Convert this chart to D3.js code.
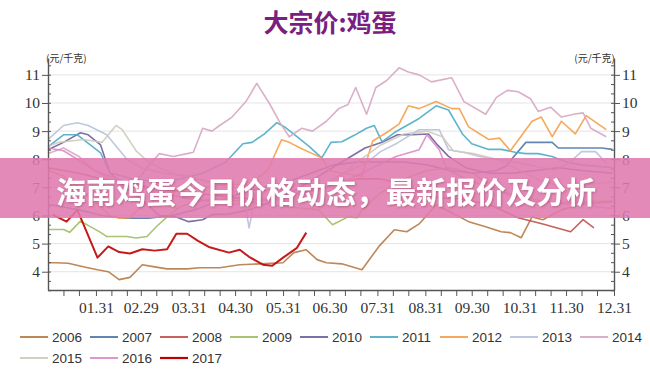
<!DOCTYPE html>
<html>
<head>
<meta charset="utf-8">
<script src="https://cdn.jsdelivr.net/npm/d3@7"></script>
<style>
  body { margin: 0; background: #fff; }
  svg { display: block; }
  .axis path, .axis line { stroke: #555; }
  .legend text { font-family: "Liberation Sans", Arial, sans-serif; font-size: 13.5px; fill: #333; }
</style>
</head>
<body>
<svg id="chart"></svg>
<script>
// texts
const title = '大宗价:鸡蛋';
const bannerText = '海南鸡蛋今日价格动态，最新报价及分析';
const unitLabel = '(元/千克)';

// categories and ticks
const years = ['2006', '2007', '2008', '2009', '2010', '2011', '2012', '2013', '2014', '2015', '2016', '2017'];
const monthEnds = [31, 60, 91, 121, 152, 182, 213, 244, 274, 305, 335, 366];
const monthLabels = ['01.31', '02.29', '03.31', '04.30', '05.31', '06.30', '07.31', '08.31', '09.30', '10.31', '11.30', '12.31'];
const yTicks = [4, 5, 6, 7, 8, 9, 10, 11];

// series: [day of year, price]
const p2006 = [[0,4.32],[5,4.32],[13,4.3],[25,4.15],[32,4.07],[39,4.0],[46,3.72],[53,3.8],[61,4.25],[68,4.18],[77,4.1],[90,4.1],[98,4.14],[111,4.14],[124,4.25],[137,4.28],[152,4.32],[159,4.68],[167,4.78],[174,4.43],[180,4.32],[190,4.28],[203,4.07],[214,4.9],[224,5.49],[232,5.42],[240,5.7],[251,6.38],[261,6.1],[272,5.78],[283,5.6],[293,5.42],[299,5.39],[306,5.21],[313,5.95],[320,5.85],[332,6.2],[345,6.4],[358,6.45],[365,6.5]];
const p2007 = [[0,6.4],[10,6.3],[20,6.2],[35,6.0],[50,5.9],[65,5.9],[80,6.0],[95,6.2],[110,6.5],[125,6.8],[140,7.0],[155,7.2],[170,7.5],[185,7.8],[200,7.9],[215,7.9],[230,7.9],[245,7.8],[260,7.6],[275,7.5],[290,7.6],[296,7.75],[309,8.6],[326,8.6],[330,8.4],[345,8.4],[358,8.4],[365,8.35]];
const p2008 = [[0,7.7],[10,7.6],[20,7.5],[35,7.3],[50,7.2],[65,7.0],[80,6.9],[95,6.8],[110,6.7],[125,6.6],[140,6.6],[155,6.7],[170,6.9],[185,7.1],[200,7.3],[215,7.3],[230,7.1],[246,6.66],[265,6.6],[285,6.4],[304,5.92],[320,5.7],[338,5.42],[346,5.85],[353,5.56]];
const p2009 = [[0,5.5],[10,5.5],[14,5.4],[21,5.8],[34,5.4],[38,5.25],[51,5.25],[57,5.2],[64,5.25],[70,5.6],[77,5.95],[85,6.3],[95,6.5],[110,6.6],[125,6.5],[140,6.4],[155,6.3],[175,6.2],[184,5.67],[194,5.95],[200,5.92],[203,6.2],[215,6.8],[230,7.3],[245,7.6],[260,7.7],[275,7.5],[290,6.9],[305,6.7],[320,6.5],[335,6.4],[350,6.5],[365,6.5]];
const p2010 = [[0,8.34],[10,8.6],[21,8.94],[26,8.87],[34,8.51],[40,7.52],[50,7.0],[60,6.6],[72,6.0],[83,5.95],[91,5.78],[100,5.85],[106,6.03],[117,6.05],[130,6.2],[145,6.5],[160,6.9],[175,7.4],[190,7.9],[205,8.4],[216,8.6],[226,8.87],[235,8.87],[246,8.9],[252,8.5],[259,8.1],[270,7.7],[285,7.5],[300,7.5],[315,7.6],[330,7.7],[345,7.6],[365,7.5]];
const p2011 = [[0,8.44],[10,8.87],[19,8.87],[34,8.23],[40,7.52],[55,7.3],[70,7.2],[85,7.3],[100,7.5],[115,7.9],[126,8.55],[132,8.6],[140,8.9],[148,9.3],[153,9.15],[161,8.8],[169,8.45],[177,8.05],[183,8.6],[190,8.62],[198,8.85],[206,9.1],[211,9.2],[216,8.62],[224,8.95],[232,9.2],[240,9.45],[251,9.9],[259,9.75],[268,8.9],[274,8.55],[285,8.35],[293,8.35],[302,8.25],[309,8.2],[317,8.2],[326,8.1],[335,7.9],[345,7.8],[355,7.75],[365,7.7]];
const p2012 = [[0,7.6],[10,7.4],[20,7.0],[30,6.5],[40,6.0],[46,5.9],[53,5.92],[60,6.3],[70,6.6],[85,6.9],[100,7.0],[115,7.1],[130,7.1],[142,7.6],[151,8.69],[156,8.6],[163,8.4],[171,8.2],[177,8.05],[182,7.6],[190,7.5],[197,7.45],[203,7.4],[210,8.65],[219,8.95],[227,9.25],[233,9.9],[240,9.8],[251,10.05],[261,9.8],[266,9.8],[272,9.15],[285,8.7],[292,8.75],[299,8.3],[313,9.35],[319,9.5],[326,8.8],[332,9.35],[341,8.9],[348,9.55],[361,9.05]];
const p2013 = [[0,8.7],[10,9.2],[19,9.3],[26,9.2],[38,8.87],[51,8.0],[60,7.7],[75,7.5],[90,7.4],[105,7.2],[120,7.0],[126,6.9],[130,5.56],[135,6.9],[145,6.9],[160,6.8],[175,7.0],[191,7.5],[206,7.87],[215,8.27],[226,8.58],[240,9.05],[253,9.05],[259,8.34],[270,8.23],[279,8.1],[290,8.0],[302,7.9],[317,7.73],[328,7.62],[337,7.87],[345,8.27],[354,8.27],[361,7.87]];
const p2014 = [[0,8.2],[10,8.4],[20,8.1],[30,7.6],[40,7.3],[50,7.2],[60,7.4],[64,7.7],[72,8.2],[81,8.1],[90,8.2],[94,8.25],[100,9.1],[106,9.0],[111,9.2],[119,9.5],[128,10.05],[135,10.7],[143,10.0],[150,9.3],[156,8.8],[164,9.1],[171,9.0],[180,9.35],[188,9.8],[194,9.95],[199,10.55],[206,9.6],[212,10.55],[219,10.8],[227,11.25],[233,11.1],[240,11.0],[248,10.75],[261,10.9],[269,10.05],[283,9.6],[290,10.2],[297,10.45],[304,10.4],[312,10.15],[317,9.7],[325,9.85],[332,9.5],[340,9.6],[346,9.65],[351,9.1],[361,8.8]];
const p2015 = [[0,8.45],[7,8.6],[23,8.7],[35,8.6],[44,9.2],[48,9.05],[57,8.3],[65,7.9],[80,7.5],[95,7.3],[110,7.1],[125,6.8],[140,6.6],[155,6.5],[170,6.7],[185,7.2],[200,7.9],[215,8.5],[230,8.9],[245,9.0],[255,8.8],[262,8.3],[275,8.2],[290,8.0],[305,7.6],[320,7.2],[335,7.0],[350,7.1],[365,7.2]];
const p2016 = [[0,8.4],[10,8.3],[19,8.0],[30,7.6],[45,7.3],[60,7.0],[75,6.8],[90,6.6],[105,6.5],[120,6.4],[135,6.5],[150,6.6],[165,6.8],[180,7.0],[195,7.3],[210,7.7],[225,8.1],[240,8.34],[245,8.87],[253,8.34],[258,7.65],[270,7.3],[285,7.0],[300,6.7],[315,6.5],[330,6.45],[345,6.5],[355,6.3],[365,6.25]];
const p2017 = [[3,6.03],[12,5.78],[19,6.2],[32,4.5],[39,4.9],[46,4.7],[53,4.65],[61,4.8],[69,4.75],[77,4.8],[83,5.35],[90,5.35],[97,5.1],[104,4.88],[117,4.68],[124,4.78],[130,4.53],[139,4.25],[145,4.21],[152,4.5],[161,4.85],[167,5.39]];

const seriesValues = [p2006, p2007, p2008, p2009, p2010, p2011, p2012, p2013, p2014, p2015, p2016, p2017];
const colors = ['#b77a45', '#4f79a8', '#c0504d', '#a0bd60', '#6e5f9e', '#4bacc6', '#f5a04a', '#b6c2dc', '#d6a6c2', '#cfcbbb', '#dc8ac8', '#c00000'];

class EggChart {
  constructor(_config) {
    this.config = {
      parentElement: _config.parentElement,
      containerWidth: _config.containerWidth || 650,
      containerHeight: _config.containerHeight || 377,
      plot: _config.plot || {left: 48, right: 614, top: 58, bottom: 290}
    };
    this.initVis();
  }

  initVis() {
    let vis = this;
    const p = vis.config.plot;

    vis.svg = d3.select(vis.config.parentElement)
        .attr('width', vis.config.containerWidth)
        .attr('height', vis.config.containerHeight);

    vis.xScale = d3.scaleLinear().domain([0, 366]).range([p.left, p.right]);
    vis.yScale = d3.scaleLinear().domain([3.35, 11.6]).range([p.bottom, p.top]);

    // title
    vis.svg.append('text')
        .attr('x', 330).attr('y', 32)
        .attr('text-anchor', 'middle')
        .style('font-family', '"Noto Sans CJK SC", sans-serif')
        .style('font-weight', 'bold')
        .style('font-size', '25px')
        .style('fill', '#7a1f80')
        .text(title);

    // units
    vis.svg.append('text')
        .attr('x', p.left - 2).attr('y', 62)
        .style('font-family', '"Noto Sans CJK SC", sans-serif')
        .style('font-size', '10px').style('fill', '#333')
        .text(unitLabel);
    vis.svg.append('text')
        .attr('x', p.right + 1).attr('y', 62)
        .attr('text-anchor', 'end')
        .style('font-family', '"Noto Sans CJK SC", sans-serif')
        .style('font-size', '10px').style('fill', '#333')
        .text(unitLabel);

    vis.updateVis();
  }

  updateVis() {
    let vis = this;
    // x ticks on the 10th, 20th and last day of every month
    vis.xTickValues = [];
    monthEnds.forEach((end, i) => {
      const start = i === 0 ? 0 : monthEnds[i - 1];
      vis.xTickValues.push(start + 10, start + 20, end);
    });
    vis.minorY = d3.range(3.34, 11.6, 1 / 3);
    vis.renderVis();
  }

  renderVis() {
    let vis = this;
    const p = vis.config.plot;

    // grid
    vis.svg.append('g').selectAll('line')
        .data(yTicks)
        .join('line')
        .attr('x1', p.left).attr('x2', p.right)
        .attr('y1', d => vis.yScale(d)).attr('y2', d => vis.yScale(d))
        .attr('stroke', '#e4e4e4').attr('stroke-width', 1);

    // lines
    const line = d3.line()
        .x(d => vis.xScale(d[0]))
        .y(d => vis.yScale(d[1]));

    vis.svg.append('g').selectAll('path')
        .data(seriesValues)
        .join('path')
        .attr('d', line)
        .attr('fill', 'none')
        .attr('stroke', (d, i) => colors[i])
        .attr('stroke-width', (d, i) => i === 11 ? 2 : 1.6)
        .attr('stroke-linejoin', 'round')
        .attr('opacity', 0.9);

    // axes
    const yLeft = d3.axisLeft(vis.yScale).tickValues(yTicks).tickSize(6).tickSizeOuter(0).tickPadding(2);
    const yRight = d3.axisRight(vis.yScale).tickValues(yTicks).tickSize(6).tickSizeOuter(0).tickPadding(2);
    vis.svg.append('g').attr('class', 'axis')
        .attr('transform', `translate(${p.left},0)`).call(yLeft);
    vis.svg.append('g').attr('class', 'axis')
        .attr('transform', `translate(${p.right},0)`).call(yRight);

    // minor ticks, pointing inwards
    vis.svg.append('g').attr('class', 'axis')
        .attr('transform', `translate(${p.left},0)`)
        .call(d3.axisRight(vis.yScale).tickValues(vis.minorY).tickSize(3).tickFormat(''))
        .select('.domain').remove();
    vis.svg.append('g').attr('class', 'axis')
        .attr('transform', `translate(${p.right},0)`)
        .call(d3.axisLeft(vis.yScale).tickValues(vis.minorY).tickSize(3).tickFormat(''))
        .select('.domain').remove();

    const xAxis = d3.axisBottom(vis.xScale)
        .tickValues(vis.xTickValues)
        .tickSize(6).tickSizeOuter(0).tickPadding(6)
        .tickFormat(d => {
          const i = monthEnds.indexOf(d);
          return i >= 0 ? monthLabels[i] : '';
        });
    vis.svg.append('g').attr('class', 'axis')
        .attr('transform', `translate(0,${p.bottom})`).call(xAxis);

    vis.svg.selectAll('.axis .domain').attr('stroke-width', 1.4);
    vis.svg.selectAll('.axis text')
        .attr('font-family', null)
        .style('font-family', '"Liberation Serif", "Times New Roman", serif')
        .style('font-size', '15.5px')
        .style('fill', '#333');

    // banner over the chart
    const defs = vis.svg.append('defs');
    defs.append('filter').attr('id', 'shadow')
      .append('feDropShadow')
        .attr('dx', 1).attr('dy', 1).attr('stdDeviation', 1)
        .attr('flood-color', '#803050').attr('flood-opacity', 0.45);

    vis.svg.append('rect')
        .attr('x', 0).attr('y', 158)
        .attr('width', vis.config.containerWidth).attr('height', 60)
        .attr('fill', '#e07aae').attr('opacity', 0.88);
    vis.svg.append('text')
        .attr('x', 326).attr('y', 190)
        .attr('text-anchor', 'middle')
        .attr('dominant-baseline', 'central')
        .attr('filter', 'url(#shadow)')
        .style('font-family', '"Noto Sans CJK SC", sans-serif')
        .style('font-weight', 'bold')
        .style('font-size', '30px')
        .style('fill', '#fff')
        .text(bannerText);

    // legend
    const legend = vis.svg.append('g').attr('class', 'legend')
      .selectAll('g')
      .data(years)
      .join('g')
        .attr('transform', (d, i) => `translate(${20 + (i % 9) * 70},${i < 9 ? 337 : 358})`);
    legend.append('line')
        .attr('x1', 0).attr('x2', 28)
        .attr('stroke', (d, i) => colors[i])
        .attr('stroke-width', (d, i) => i === 11 ? 2.2 : 1.8);
    legend.append('text')
        .attr('x', 32).attr('y', 5)
        .text(d => d);
  }
}

new EggChart({parentElement: '#chart'});
</script>
</body>
</html>
